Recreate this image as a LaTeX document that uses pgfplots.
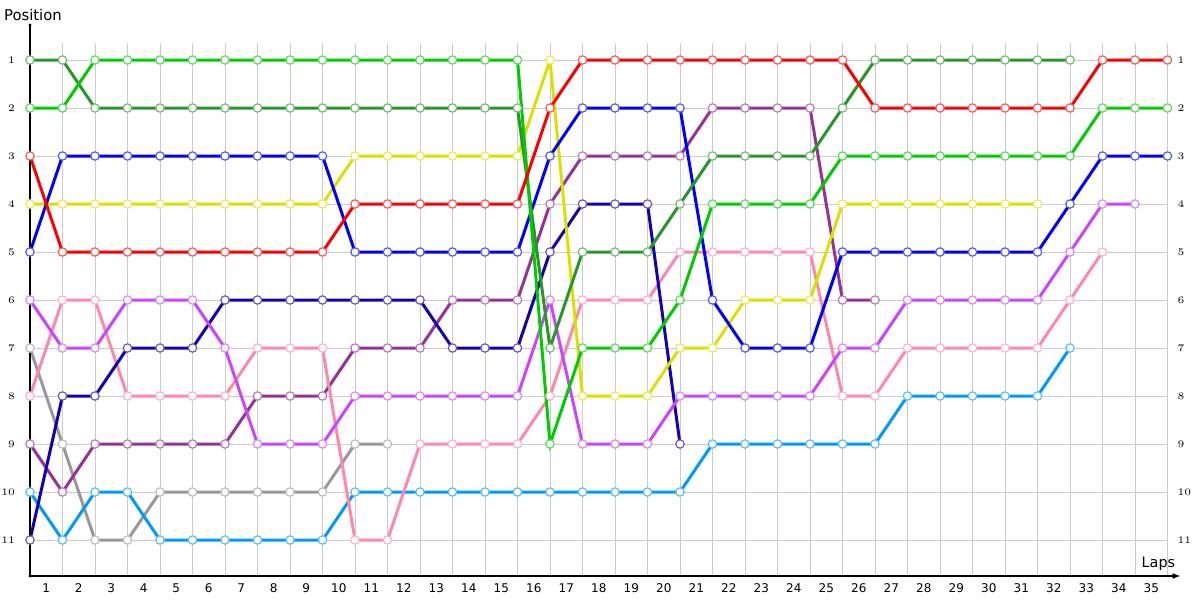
\documentclass[border=0pt]{standalone}
\usepackage{pgfplots}
\pgfplotsset{compat=1.18}
\usepackage{pgfplotstable}
\usepackage{fontspec}
\setmainfont{DejaVu Sans}
\usetikzlibrary{arrows.meta}
\definecolor{cred}{RGB}{255,0,0}
\definecolor{cgreen}{RGB}{0,204,0}
\definecolor{cdgreen}{RGB}{40,150,40}
\definecolor{cblue}{RGB}{0,0,255}
\definecolor{cyellow}{RGB}{222,222,0}
\definecolor{cmag}{RGB}{204,68,255}
\definecolor{cnavy}{RGB}{20,0,180}
\definecolor{cpink}{RGB}{255,136,170}
\definecolor{cgray}{RGB}{153,153,153}
\definecolor{cdpurp}{RGB}{150,50,150}
\definecolor{clblue}{RGB}{0,153,255}

\pgfplotstableread{
lap red green dgreen blue yellow mag navy pink gray dpurp lblue
0  3 2 1 5 4 6 11 8 7 9 10
1  5 2 1 3 4 7 8 6 9 10 11
2  5 1 2 3 4 7 8 6 11 9 10
3  5 1 2 3 4 6 7 8 11 9 10
4  5 1 2 3 4 6 7 8 10 9 11
5  5 1 2 3 4 6 7 8 10 9 11
6  5 1 2 3 4 7 6 8 10 9 11
7  5 1 2 3 4 9 6 7 10 8 11
8  5 1 2 3 4 9 6 7 10 8 11
9  5 1 2 3 4 9 6 7 10 8 11
10 4 1 2 5 3 8 6 11 9 7 10
11 4 1 2 5 3 8 6 11 9 7 10
12 4 1 2 5 3 8 6 9 nan 7 10
13 4 1 2 5 3 8 7 9 nan 6 10
14 4 1 2 5 3 8 7 9 nan 6 10
15 4 1 2 5 3 8 7 9 nan 6 10
16 2 9 7 3 1 6 5 8 nan 4 10
17 1 7 5 2 8 9 4 6 nan 3 10
18 1 7 5 2 8 9 4 6 nan 3 10
19 1 7 5 2 8 9 4 6 nan 3 10
20 1 6 4 2 7 8 9 5 nan 3 10
21 1 4 3 6 7 8 nan 5 nan 2 9
22 1 4 3 7 6 8 nan 5 nan 2 9
23 1 4 3 7 6 8 nan 5 nan 2 9
24 1 4 3 7 6 8 nan 5 nan 2 9
25 1 3 2 5 4 7 nan 8 nan 6 9
26 2 3 1 5 4 7 nan 8 nan 6 9
27 2 3 1 5 4 6 nan 7 nan nan 8
28 2 3 1 5 4 6 nan 7 nan nan 8
29 2 3 1 5 4 6 nan 7 nan nan 8
30 2 3 1 5 4 6 nan 7 nan nan 8
31 2 3 1 5 4 6 nan 7 nan nan 8
32 2 3 1 4 nan 5 nan 6 nan nan 7
33 1 2 nan 3 nan 4 nan 5 nan nan nan
34 1 2 nan 3 nan 4 nan nan nan nan nan
35 1 2 nan 3 nan nan nan nan nan nan nan
}\laps

\pgfplotsset{
  drv/.style={#1, line width=1.5pt, mark=*, mark size=2.1pt,
    mark options={fill=white, draw=#1!65!white, line width=0.6pt}},
}

\begin{document}
\begin{tikzpicture}
\begin{axis}[
  at={(0,0)}, anchor=south west,
  scale only axis, width=568.75pt, height=266.4pt,
  xmin=0, xmax=35, ymin=0.65, ymax=11.75, y dir=reverse,
  axis line style={draw=none},
  xtick={0.5,1.5,...,34.5},
  xticklabel={\pgfmathparse{int(round(\tick+0.5))}\pgfmathresult},
  minor xtick={1,...,35}, xminorgrids,
  ytick={1,...,11}, ymajorgrids,
  grid style={draw=black!20, line width=0.5pt},
  minor grid style={draw=black!20, line width=0.5pt},
  major tick length=0, minor tick length=0,
  xticklabel style={font=\fontsize{6}{7}\selectfont, yshift=-0.5pt},
  yticklabel style={font=\fontsize{5}{6}\selectfont, xshift=-4pt},
  clip=false,
  unbounded coords=jump,
]
\addplot[drv=cgray] table[x=lap,y=gray]{\laps};
\addplot[drv=clblue] table[x=lap,y=lblue]{\laps};
\addplot[drv=cdpurp] table[x=lap,y=dpurp]{\laps};
\addplot[drv=cpink] table[x=lap,y=pink]{\laps};
\addplot[drv=cnavy] table[x=lap,y=navy]{\laps};
\addplot[drv=cmag] table[x=lap,y=mag]{\laps};
\addplot[drv=cyellow] table[x=lap,y=yellow]{\laps};
\addplot[drv=cblue] table[x=lap,y=blue]{\laps};
\addplot[drv=cdgreen] table[x=lap,y=dgreen]{\laps};
\addplot[drv=cgreen] table[x=lap,y=green]{\laps};
\addplot[drv=cred] table[x=lap,y=red]{\laps};
\draw[black, line width=0.6pt] (axis cs:0,11.75) -- (axis cs:0,0.27);
\fill[black] (axis cs:0,0.27) circle (0.8pt);
\fill[black] (axis cs:0,11.75) circle (0.8pt);
\draw[black, line width=0.6pt, -{Latex[length=4pt,width=3pt]}] (axis cs:0,11.75) -- (axis cs:35.4,11.75);
\node[font=\fontsize{7.4}{8}\selectfont] at (axis cs:0.09,0.06) {Position};
\node[font=\fontsize{7.2}{8}\selectfont] at (axis cs:34.72,11.5) {Laps};
\end{axis}
\begin{axis}[
  at={(0,0)}, anchor=south west,
  scale only axis, width=568.75pt, height=266.4pt,
  xmin=0, xmax=35, ymin=0.65, ymax=11.75, y dir=reverse,
  axis line style={draw=none},
  xtick=\empty,
  ytick={1,...,11}, yticklabel pos=right,
  major tick length=0,
  yticklabel style={font=\fontsize{5}{6}\selectfont, xshift=1.5pt},
]
\end{axis}
\pgfresetboundingbox
\path[use as bounding box] (-15pt,-12pt) rectangle (585pt,288pt);
\end{tikzpicture}
\end{document}
